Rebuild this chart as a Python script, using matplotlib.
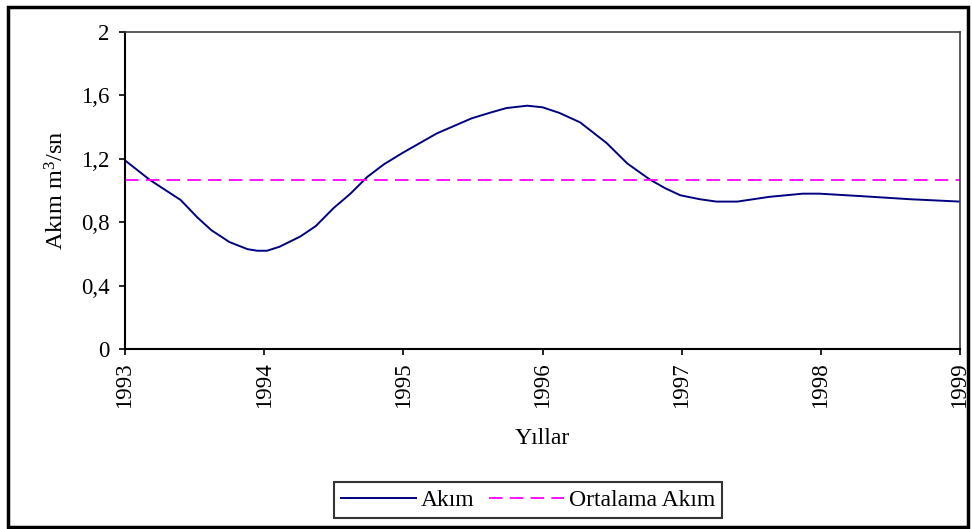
import matplotlib
matplotlib.use("Agg")
import matplotlib.pyplot as plt
from matplotlib.patches import Rectangle
from matplotlib.ticker import FuncFormatter

plt.rcParams['font.family'] = ['Liberation Serif', 'DejaVu Serif']
plt.rcParams['mathtext.fontset'] = 'custom'
plt.rcParams['mathtext.rm'] = 'Liberation Serif'
plt.rcParams['mathtext.it'] = 'Liberation Serif'

# Data (decimal years, flow m3/s)
years = [1993.0, 1993.18, 1993.4, 1993.52, 1993.62, 1993.75, 1993.88, 1993.95, 1994.02,
         1994.11, 1994.26, 1994.37, 1994.5, 1994.62, 1994.74, 1994.86, 1994.99, 1995.24,
         1995.49, 1995.62, 1995.74, 1995.89, 1996.0, 1996.12, 1996.27, 1996.46, 1996.61,
         1996.77, 1996.88, 1996.99, 1997.13, 1997.25, 1997.40, 1997.63, 1997.87, 1997.99,
         1998.28, 1998.64, 1999.0]
flow = [1.19, 1.066, 0.94, 0.83, 0.75, 0.675, 0.63, 0.62, 0.62,
        0.645, 0.71, 0.775, 0.89, 0.98, 1.085, 1.165, 1.235, 1.36,
        1.455, 1.49, 1.52, 1.535, 1.525, 1.49, 1.43, 1.30, 1.17,
        1.07, 1.015, 0.97, 0.945, 0.93, 0.93, 0.96, 0.98, 0.98,
        0.965, 0.945, 0.93]
mean_flow = 1.067
xticks = [1993, 1994, 1995, 1996, 1997, 1998, 1999]
yticks = [0, 0.4, 0.8, 1.2, 1.6, 2.0]

fig = plt.figure(figsize=(9.72, 5.29), dpi=100)
ax = fig.add_axes([125/972, 1-349/529, (960-125)/972, (349-32)/529])

ax.plot(years, flow, color='#000080', lw=1.4, label='Akım')
ax.plot([xticks[0], xticks[-1]], [mean_flow, mean_flow], color='#FF00FF', lw=1.3,
        dashes=(7.5, 4), label='Ortalama Akım')

ax.set_xlim(xticks[0], xticks[-1])
ax.set_ylim(0, 2)
ax.set_xticks(xticks)
ax.set_xticklabels([str(x) for x in xticks], rotation=90, fontsize=16.5)
ax.set_yticks(yticks)
ax.yaxis.set_major_formatter(FuncFormatter(lambda v, p: ('%g' % v).replace('.', ',')))
ax.tick_params(axis='y', labelsize=16.5, length=4.5, width=1.2, pad=6.5)
ax.tick_params(axis='x', labelsize=16.5, length=4.5, width=1.2, pad=5)
for s in ['left', 'bottom']:
    ax.spines[s].set_linewidth(1.5)
for s in ['top', 'right']:
    ax.spines[s].set_linewidth(1.2)
    ax.spines[s].set_color('#404040')

ax.set_ylabel('Akım m$^3$/sn', fontsize=17.5)
ax.yaxis.set_label_coords(-0.068, 0.5)
fig.text(542/972, 1-438/529, 'Yıllar', fontsize=17, ha='center', va='center')

leg = fig.legend(loc='center', bbox_to_anchor=(528/972, 1-500/529), ncol=2,
                 fontsize=17, frameon=True, fancybox=False, handlelength=3.2,
                 handletextpad=0.2, columnspacing=0.6, borderpad=0.3)
leg.get_frame().set_edgecolor('black')
leg.get_frame().set_linewidth(1.5)

fig.patches.append(Rectangle((8/972, 1-527/529), (968-8)/972, (527-7)/529,
                             transform=fig.transFigure, fill=False,
                             edgecolor='black', linewidth=2.5))

fig.savefig('out.png', dpi=100)
